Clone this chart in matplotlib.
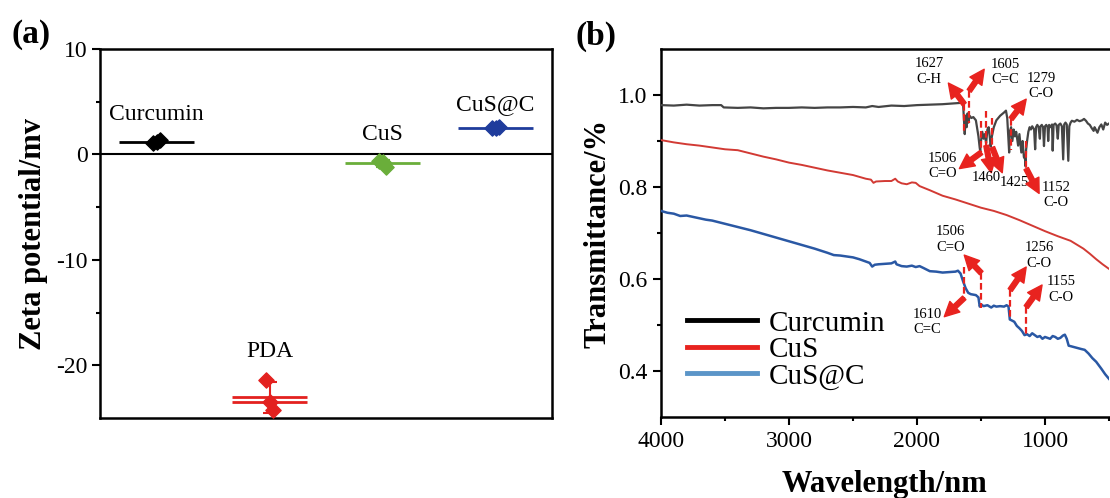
import numpy as np
import matplotlib
matplotlib.use("Agg")
import matplotlib.pyplot as plt
from matplotlib.lines import Line2D
from matplotlib.ticker import FixedLocator

plt.rcParams['font.family'] = ['Liberation Serif', 'DejaVu Serif']

# ---------------- Panel (a) data: zeta potential ----------------
samples = ["Curcumin", "PDA", "CuS", "CuS@C"]
zeta_curcumin = [1.05, 1.2, 1.35]
zeta_pda = [-21.4, -23.5, -24.2]
zeta_cus = [-0.6, -0.75, -1.2]
zeta_cusc = [2.5, 2.55, 2.6]
zeta_colors = ["#000000", "#e3211f", "#6aae3a", "#1f3c9c"]

# ---------------- Panel (b) data: FTIR ----------------
wn_curcumin = [4000, 3900, 3800, 3700, 3600, 3530, 3510, 3400, 3300, 3200, 3100, 3000,
               2900, 2800, 2700, 2600, 2500, 2400, 2350, 2300, 2200, 2100, 2000, 1900,
               1800, 1700, 1650, 1640, 1630, 1627, 1620, 1612, 1605, 1598, 1590, 1575,
               1560, 1540, 1520, 1510, 1506, 1500, 1490, 1480, 1470, 1460, 1450, 1440,
               1430, 1425, 1415, 1400, 1380, 1350, 1320, 1305, 1295, 1285, 1280, 1275,
               1265, 1255, 1245, 1235, 1225, 1210, 1200, 1185, 1175, 1165, 1155, 1152,
               1148, 1140, 1130, 1120, 1110, 1100, 1085, 1077, 1070, 1060, 1050, 1040,
               1035, 1025, 1015, 1008, 1000, 990, 980, 975, 968, 955, 945, 940, 933,
               920, 910, 900, 893, 880, 868, 858, 850, 840, 830, 818, 810, 800, 790,
               770, 750, 730, 710, 695, 680, 665, 650, 635, 620, 613, 605, 590, 575,
               560, 545, 530, 515, 500]
t_curcumin = [0.978, 0.977, 0.979, 0.977, 0.978, 0.978, 0.973, 0.972, 0.973, 0.971, 0.972, 0.972,
              0.973, 0.972, 0.973, 0.973, 0.974, 0.973, 0.976, 0.974, 0.977, 0.976, 0.978, 0.979,
              0.980, 0.982, 0.983, 0.981, 0.930, 0.915, 0.955, 0.930, 0.960, 0.940, 0.955, 0.950,
              0.952, 0.945, 0.910, 0.885, 0.878, 0.900, 0.920, 0.905, 0.915, 0.895, 0.925, 0.930,
              0.905, 0.888, 0.910, 0.930, 0.945, 0.955, 0.962, 0.966, 0.950, 0.900, 0.875, 0.920,
              0.930, 0.900, 0.925, 0.910, 0.920, 0.890, 0.915, 0.875, 0.900, 0.865, 0.860, 0.845,
              0.880, 0.900, 0.920, 0.930, 0.925, 0.932, 0.925, 0.882, 0.930, 0.935, 0.930, 0.905,
              0.932, 0.935, 0.930, 0.889, 0.932, 0.935, 0.930, 0.900, 0.935, 0.930, 0.936, 0.879,
              0.935, 0.938, 0.934, 0.905, 0.935, 0.938, 0.932, 0.860, 0.936, 0.940, 0.936, 0.857,
              0.932, 0.940, 0.944, 0.942, 0.946, 0.943, 0.945, 0.948, 0.944, 0.938, 0.935, 0.928,
              0.922, 0.930, 0.926, 0.918, 0.930, 0.936, 0.925, 0.940, 0.935, 0.938]

wn_cus = [4000, 3900, 3800, 3700, 3600, 3500, 3400, 3300, 3200, 3100, 3000, 2900, 2800,
          2700, 2600, 2500, 2400, 2360, 2340, 2320, 2250, 2200, 2170, 2150, 2120, 2080,
          2040, 2010, 1980, 1900, 1800, 1700, 1600, 1500, 1400, 1300, 1200, 1100, 1000,
          900, 800, 700, 650, 600, 550, 500]
t_cus = [0.902, 0.897, 0.893, 0.890, 0.886, 0.882, 0.880, 0.873, 0.866, 0.860, 0.853, 0.848,
         0.842, 0.836, 0.831, 0.826, 0.818, 0.816, 0.809, 0.812, 0.813, 0.813, 0.818, 0.812,
         0.808, 0.806, 0.810, 0.809, 0.802, 0.793, 0.781, 0.773, 0.764, 0.755, 0.748, 0.739,
         0.728, 0.716, 0.704, 0.693, 0.683, 0.666, 0.655, 0.643, 0.632, 0.622]

wn_cusc = [4000, 3950, 3900, 3850, 3800, 3750, 3700, 3650, 3600, 3500, 3400, 3300, 3200,
           3100, 3000, 2900, 2800, 2700, 2650, 2600, 2550, 2500, 2450, 2400, 2370, 2350,
           2330, 2300, 2250, 2200, 2170, 2160, 2120, 2080, 2040, 2010, 1980, 1950, 1900,
           1850, 1800, 1750, 1700, 1680, 1660, 1640, 1620, 1600, 1580, 1560, 1540, 1520,
           1510, 1500, 1480, 1450, 1420, 1400, 1380, 1350, 1320, 1300, 1285, 1275, 1260,
           1240, 1220, 1200, 1180, 1160, 1140, 1120, 1100, 1080, 1060, 1040, 1020, 1000,
           980, 960, 940, 920, 900, 880, 860, 845, 830, 815, 800, 760, 720, 690, 660, 630,
           600, 560, 530, 500]
t_cusc = [0.748, 0.744, 0.742, 0.737, 0.738, 0.735, 0.732, 0.729, 0.727, 0.720, 0.713, 0.706,
          0.698, 0.690, 0.682, 0.674, 0.666, 0.657, 0.652, 0.651, 0.649, 0.647, 0.643, 0.638,
          0.635, 0.627, 0.631, 0.632, 0.633, 0.634, 0.638, 0.632, 0.628, 0.627, 0.629, 0.626,
          0.628, 0.624, 0.617, 0.616, 0.614, 0.615, 0.616, 0.618, 0.612, 0.595, 0.580, 0.570,
          0.567, 0.566, 0.565, 0.560, 0.540, 0.545, 0.541, 0.543, 0.538, 0.542, 0.540, 0.541,
          0.540, 0.543, 0.540, 0.512, 0.510, 0.507, 0.498, 0.493, 0.487, 0.478, 0.480, 0.476,
          0.482, 0.478, 0.474, 0.476, 0.470, 0.474, 0.472, 0.470, 0.476, 0.474, 0.470, 0.472,
          0.477, 0.479, 0.470, 0.455, 0.454, 0.451, 0.448, 0.446, 0.438, 0.428, 0.420, 0.405,
          0.393, 0.383]

series_names = ["Curcumin", "CuS", "CuS@C"]
line_colors = ["#454545", "#d23a34", "#2a58a4"]
legend_colors = ["#000000", "#e8231f", "#5b95c8"]

W, H = 1110, 498
fig = plt.figure(figsize=(W / 100, H / 100), dpi=100)

# ======================= Panel (a) =======================
axa = fig.add_axes([100 / W, 1 - 418 / H, 452 / W, 369 / H])
groups = [zeta_curcumin, zeta_pda, zeta_cus, zeta_cusc]
offsets = [-0.03, 0.0, 0.03]
for i, (vals, col) in enumerate(zip(groups, zeta_colors)):
    xpos = i + 1
    v = np.array(vals)
    m = v.mean()
    sd = v.std(ddof=1)
    axa.errorbar([xpos], [m], yerr=[sd], fmt='none', ecolor=col, elinewidth=1.5,
                 capsize=5, capthick=1.5, zorder=3)
    axa.plot([xpos - 0.33, xpos + 0.33], [m, m], color=col, lw=2, zorder=3,
             solid_capstyle='butt')
    if i == 1:
        med = np.median(v)
        axa.plot([xpos - 0.33, xpos + 0.33], [med, med], color=col, lw=2, zorder=3,
                 solid_capstyle='butt')
    axa.scatter(xpos + np.array(offsets[:len(v)]), v, marker='D', s=60, color=col,
                edgecolors=col, zorder=4)

label_y = [3.8, -18.7, 1.9, 4.75]
for i, (name, ly) in enumerate(zip(samples, label_y)):
    axa.text(i + 1, ly, name, ha='center', va='center', fontsize=17)

axa.axhline(0, color='black', lw=1.5, zorder=2)
axa.set_xlim(0.5, 4.5)
axa.set_ylim(-25, 10)
axa.set_xticks([])
axa.yaxis.set_major_locator(FixedLocator([-20, -10, 0, 10]))
axa.yaxis.set_minor_locator(FixedLocator([-15, -5, 5]))
axa.set_yticklabels(['-20', '-10', '0', '10'])
axa.tick_params(axis='y', which='major', direction='out', length=6, width=1.5,
                labelsize=17, pad=3)
axa.tick_params(axis='y', which='minor', direction='out', length=3, width=1.5)
for sp in axa.spines.values():
    sp.set_linewidth(1.8)
axa.set_ylabel('Zeta potential/mv', fontsize=22, fontweight='bold', labelpad=6)
fig.text(31 / W, 1 - 35 / H, '(a)', fontsize=24, fontweight='bold', ha='center', va='center')

# ======================= Panel (b) =======================
axb = fig.add_axes([661 / W, 1 - 417 / H, 448 / W, 368 / H])
curves = [(wn_curcumin, t_curcumin), (wn_cus, t_cus), (wn_cusc, t_cusc)]
lws = [1.6, 1.4, 1.8]
for (wn, t), col, lw in zip(curves, line_colors, lws):
    axb.plot(wn, t, color=col, lw=lw, zorder=3)

axb.set_xlim(4000, 500)
axb.set_ylim(0.3, 1.1)
axb.xaxis.set_major_locator(FixedLocator([4000, 3000, 2000, 1000]))
axb.xaxis.set_minor_locator(FixedLocator([3500, 2500, 1500, 500]))
axb.yaxis.set_major_locator(FixedLocator([0.4, 0.6, 0.8, 1.0]))
axb.yaxis.set_minor_locator(FixedLocator([0.5, 0.7, 0.9]))
axb.set_yticklabels(['0.4', '0.6', '0.8', '1.0'])
axb.set_xticklabels(['4000', '3000', '2000', '1000'])
axb.tick_params(which='major', direction='out', length=6, width=1.5, labelsize=17, pad=4)
axb.tick_params(which='minor', direction='out', length=3, width=1.5)
for sp in axb.spines.values():
    sp.set_linewidth(1.8)
axb.spines['right'].set_visible(False)
axb.set_xlabel('Wavelength/nm', fontsize=22, fontweight='bold', labelpad=13)
axb.set_ylabel('Transmittance/%', fontsize=22, fontweight='bold', labelpad=4)
fig.text(596 / W, 1 - 36 / H, '(b)', fontsize=24, fontweight='bold', ha='center', va='center')

# annotations: (label, dashed x, dashed y0, y1, arrow tail, arrow head, text pos)
red = '#e8231f'
annotations = [
    ("1627\nC-H", 1631, 0.980, 0.919, (1631, 0.980), (1755, 1.026), (1904, 1.051)),
    ("1605\nC=C", 1592, 1.009, 0.940, (1592, 1.009), (1475, 1.056), (1311, 1.050)),
    ("1279\nC-O", 1265, 0.948, 0.880, (1265, 0.948), (1147, 0.991), (1031, 1.020)),
    ("1506\nC=O", 1498, 0.943, 0.875, (1498, 0.875), (1669, 0.840), (1802, 0.846)),
    ("1460", 1459, 0.965, 0.890, (1459, 0.890), (1420, 0.831), (1459, 0.821)),
    ("1425", 1412, 0.950, 0.886, (1412, 0.886), (1334, 0.831), (1241, 0.810)),
    ("1152\nC-O", 1147, 0.900, 0.840, (1147, 0.840), (1046, 0.786), (914, 0.783)),
    ("1506\nC=O", 1498, 0.613, 0.537, (1498, 0.613), (1631, 0.652), (1740, 0.686)),
    ("1610\nC=C", 1631, 0.626, 0.559, (1631, 0.559), (1787, 0.518), (1919, 0.507)),
    ("1256\nC-O", 1272, 0.576, 0.511, (1272, 0.576), (1147, 0.626), (1046, 0.651)),
    ("1155\nC-O", 1147, 0.539, 0.480, (1147, 0.539), (1023, 0.587), (875, 0.577)),
]
for lab, xd, y0, y1, tail, head, tpos in annotations:
    axb.plot([xd, xd], [y0, y1], color=red, lw=1.6, ls=(0, (3, 1.5)), zorder=4)
    axb.annotate('', xy=head, xytext=tail,
                 arrowprops=dict(arrowstyle='simple,head_width=0.75,head_length=0.75,tail_width=0.25',
                                 color=red, mutation_scale=14, shrinkA=0, shrinkB=0),
                 zorder=5)
    axb.text(tpos[0], tpos[1], lab, fontsize=10.5, ha='center', va='center',
             linespacing=1.25, zorder=5)

handles = [Line2D([], [], color=c, lw=3.5) for c in legend_colors]
axb.legend(handles, series_names, loc='upper left', bbox_to_anchor=(0.058, 0.29),
           frameon=False, fontsize=21, handlelength=2.4, handletextpad=0.4,
           labelspacing=0.0, borderpad=0, borderaxespad=0)

fig.savefig('out.png', dpi=100)
